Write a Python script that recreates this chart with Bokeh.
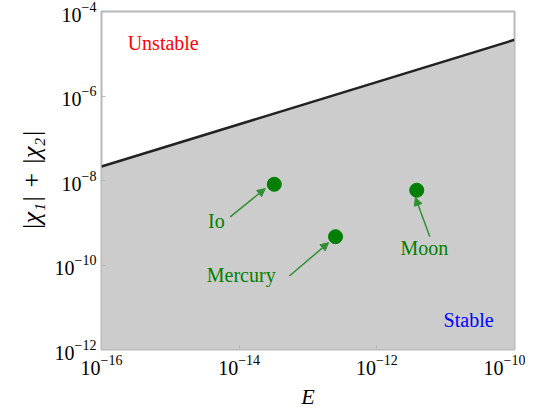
import numpy as np
from bokeh.plotting import figure
from bokeh.models import FixedTicker, Arrow, NormalHead, ColumnDataSource, Range1d
from bokeh.core.properties import value
from bokeh.embed import file_html
from bokeh.resources import INLINE

# Data
x_ticks = [1e-16, 1e-14, 1e-12, 1e-10]
y_ticks = [1e-12, 1e-10, 1e-8, 1e-6, 1e-4]
line_E = [1e-16, 1e-10]
line_chi = [10**-7.67, 10**-4.67]
bodies = ["Io", "Mercury", "Moon"]
body_E = [10**-13.49, 10**-12.60, 10**-11.42]
body_chi = [10**-8.09, 10**-9.33, 10**-8.23]
label_E = [10**-14.33, 10**-13.97, 10**-11.31]
label_chi = [10**-8.96, 10**-10.24, 10**-9.60]
arrow_start_E = [10**-14.13, 10**-13.27, 10**-11.23]
arrow_start_chi = [10**-8.86, 10**-10.26, 10**-9.33]
arrow_end_E = [10**-13.62, 10**-12.70, 10**-11.44]
arrow_end_chi = [10**-8.19, 10**-9.47, 10**-8.40]

SERIF = "Liberation Serif"

p = figure(width=525, height=411, x_axis_type="log", y_axis_type="log",
           x_range=Range1d(1e-16, 1e-10), y_range=Range1d(1e-12, 1e-4),
           output_backend="svg", toolbar_location=None,
           min_border_left=101, min_border_right=11, min_border_top=11, min_border_bottom=56)
p.background_fill_color = "white"
p.border_fill_color = "white"
p.outline_line_color = "#b8b8b8"
p.outline_line_width = 2
p.grid.visible = False

# stable region fill
p.varea(x=line_E, y1=[p.y_range.start] * len(line_E), y2=line_chi, fill_color="#cccccc")
p.line(line_E, line_chi, line_color="#222222", line_width=2.5)

src = ColumnDataSource(dict(x=body_E, y=body_chi))
p.scatter("x", "y", source=src, size=14, fill_color="#007f00", line_color="#007f00")

for i in range(len(bodies)):
    p.add_layout(Arrow(end=NormalHead(size=8, fill_color="#338f33", line_color="#338f33"),
                       x_start=arrow_start_E[i], y_start=arrow_start_chi[i],
                       x_end=arrow_end_E[i], y_end=arrow_end_chi[i],
                       line_color="#338f33", line_width=1.5))
p.text(x=label_E, y=label_chi, text=bodies, text_align="center", text_baseline="middle",
       text_font=value(SERIF), text_font_size="20px", text_color="#007f00")

p.text(x=[10**-15.62], y=[10**-4.74], text=["Unstable"], text_align="left", text_baseline="middle",
       text_font=value(SERIF), text_font_size="20px", text_color="red")
p.text(x=[10**-11.03], y=[10**-11.30], text=["Stable"], text_align="left", text_baseline="middle",
       text_font=value(SERIF), text_font_size="20px", text_color="blue")

p.xaxis.ticker = FixedTicker(ticks=x_ticks)
p.yaxis.ticker = FixedTicker(ticks=y_ticks)
for ax in (p.xaxis[0], p.yaxis[0]):
    ax.axis_line_color = None
    ax.major_tick_line_color = "#b8b8b8"
    ax.major_tick_in = 4
    ax.major_tick_out = 0
    ax.minor_tick_line_color = None
    ax.major_label_text_font = SERIF
    ax.major_label_text_font_size = "20px"
    ax.major_label_text_color = "black"
    ax.axis_label_text_font = SERIF
    ax.axis_label_text_font_style = "italic"
    ax.axis_label_text_font_size = "22px"
    ax.axis_label_text_color = "black"

p.xaxis.axis_label = "E"
p.xaxis.axis_label_standoff = 6
p.yaxis.axis_label = "|χ₁| + |χ₂|"
p.yaxis.axis_label_text_font_size = "26px"
p.yaxis.axis_label_standoff = 6

open("out.html", "w").write(file_html(p, INLINE))
